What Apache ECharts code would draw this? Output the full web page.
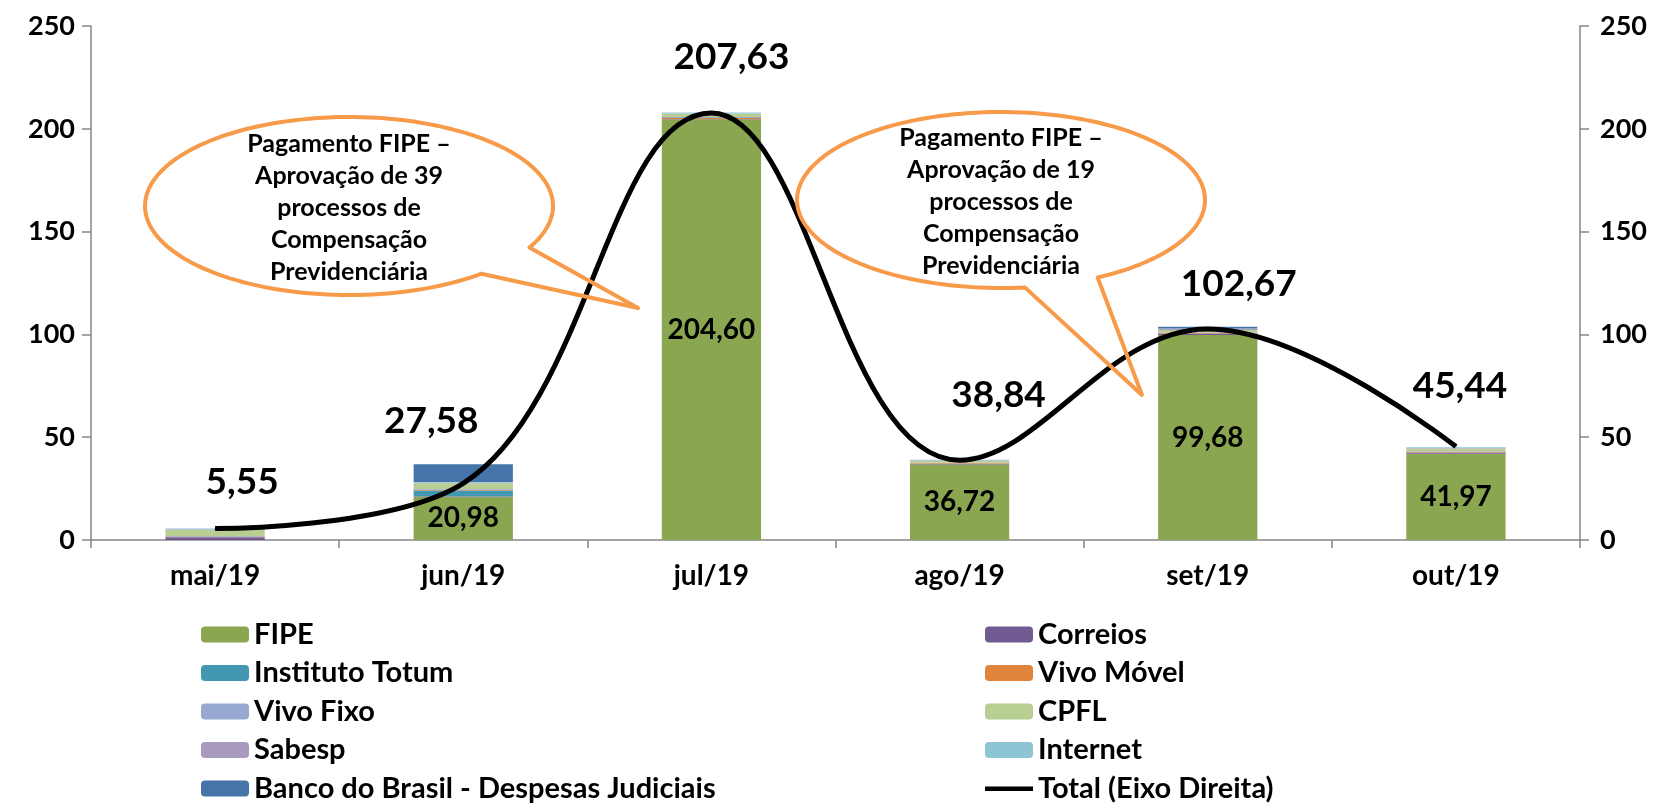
<!DOCTYPE html>
<html><head><meta charset="utf-8">
<script src="https://cdn.jsdelivr.net/npm/echarts@6/dist/echarts.min.js"></script>
<style>html,body{margin:0;padding:0;background:#fff}#c{width:1660px;height:805px}</style>
</head><body><div id="c"></div>
<script>
// ---- data ----
const categories = ['mai/19', 'jun/19', 'jul/19', 'ago/19', 'set/19', 'out/19'];
const fipe          = [0, 20.98, 204.60, 36.72, 99.68, 41.97];
const correios      = [1.3, 0.3, 0.2, 0.3, 0.8, 0.6];
const institutoTotum= [0, 2.8, 0, 0, 0, 0];
const vivoMovel     = [0.3, 0.4, 0.5, 0.3, 0.2, 0.3];
const vivoFixo      = [0.4, 0.3, 0.5, 0.2, 0.3, 0.3];
const cpfl          = [3.0, 2.8, 1.5, 1.0, 1.2, 1.3];
const sabesp        = [0.2, 0.3, 0.2, 0.3, 0.4, 0.3];
const internet      = [0.4, 0.3, 0.4, 0.2, 0.3, 0.4];
const bancoBrasil   = [0, 8.7, 0, 0, 0.8, 0];
const total         = [5.55, 27.58, 207.63, 38.84, 102.67, 45.44];
const yTicks = [0, 50, 100, 150, 200, 250];
const callout1Text = ['Pagamento FIPE –', 'Aprovação de 39', 'processos de', 'Compensação', 'Previdenciária'];
const callout2Text = ['Pagamento FIPE –', 'Aprovação de 19', 'processos de', 'Compensação', 'Previdenciária'];

// ---- styles ----
const FONT = 'Lato';
const AX = '#868686';
const totalLabelOffsets = [[27, -47], [-32, -62], [20, -56], [39, -65], [31, -45], [4, -61]];
const fmt = v => v.toFixed(2).replace('.', ',');

const barDefs = [
  ['FIPE', fipe, '#8BA650'],
  ['Correios', correios, '#715A92'],
  ['Instituto Totum', institutoTotum, '#4298B0'],
  ['Vivo Móvel', vivoMovel, '#E0843C'],
  ['Vivo Fixo', vivoFixo, '#95A9D1'],
  ['CPFL', cpfl, '#B8CE92'],
  ['Sabesp', sabesp, '#A99BBF'],
  ['Internet', internet, '#8DC4D6'],
  ['Banco do Brasil - Despesas Judiciais', bancoBrasil, '#4674A8']
];

const series = barDefs.map(([name, data, color], i) => ({
  name, type: 'bar', stack: 'tot', data, barWidth: '40%', yAxisIndex: 0,
  itemStyle: { color },
  label: i === 0 ? {
    show: true, position: 'inside', color: '#000', fontFamily: FONT, fontWeight: 'bold', fontSize: 28,
    formatter: p => p.value ? fmt(p.value) : ''
  } : { show: false }
}));
series.push({
  name: 'Total (Eixo Direita)', type: 'line', yAxisIndex: 1, smooth: 0.4,
  symbol: 'circle', symbolSize: 1, showSymbol: true,
  lineStyle: { color: '#000', width: 5 }, itemStyle: { color: '#000' },
  data: total.map((v, i) => ({ value: v, label: { offset: totalLabelOffsets[i] } })),
  label: { show: true, position: 'inside', color: '#000', fontFamily: FONT, fontWeight: 'bold', fontSize: 37,
    formatter: p => fmt(p.value) },
  z: 5
});

function calloutPoints(cx, cy, rx, ry, b1, b2, tip) {
  const ang = p => Math.atan2((p[1] - cy) / ry, (p[0] - cx) / rx) * 180 / Math.PI;
  let a1 = ang(b1), a2 = ang(b2);
  while (a2 <= a1) a2 += 360;
  const pts = [];
  const N = 160;
  for (let i = 0; i <= N; i++) {
    const a = (a1 + (a2 - a1) * i / N) * Math.PI / 180;
    pts.push([cx + rx * Math.cos(a), cy + ry * Math.sin(a)]);
  }
  pts.push(tip);
  return pts;
}
const ORANGE = '#F79A4A';
function calloutGraphic(cx, cy, rx, ry, b1, b2, tip, lines, tx, ty) {
  return [
    { type: 'polygon', z: 100, shape: { points: calloutPoints(cx, cy, rx, ry, b1, b2, tip) },
      style: { fill: 'none', stroke: ORANGE, lineWidth: 4, lineJoin: 'round' } },
    { type: 'text', z: 101, x: tx, y: ty,
      style: { text: lines.join('\n'), font: 'bold 25px ' + FONT, fill: '#000', align: 'center', verticalAlign: 'middle', lineHeight: 32 } }
  ];
}

const legendText = { color: '#000', fontFamily: FONT, fontWeight: 'bold', fontSize: 29 };
const legendBase = { orient: 'vertical', top: 620, height: 185, padding: 0, itemWidth: 48, itemHeight: 16, itemGap: 9.5,
  textStyle: legendText, itemStyle: { borderWidth: 0 } };
const chart = echarts.init(document.getElementById('c'));
chart.setOption({
  animation: false,
  backgroundColor: '#fff',
  grid: { left: 91, right: 80, top: 26, bottom: 265 },
  xAxis: {
    type: 'category', data: categories,
    axisLine: { lineStyle: { color: AX, width: 1.5 } },
    axisTick: { show: true, length: 8, lineStyle: { color: AX, width: 1.5 } },
    axisLabel: { color: '#000', fontFamily: FONT, fontWeight: 'bold', fontSize: 28, margin: 22 }
  },
  yAxis: [0, 1].map(k => ({
    type: 'value', min: 0, max: 250, interval: 50, position: k ? 'right' : 'left',
    axisLine: { show: true, lineStyle: { color: AX, width: 1.5 } },
    axisTick: { show: true, length: 9, lineStyle: { color: AX, width: 1.5 } },
    splitLine: { show: false },
    axisLabel: { color: '#000', fontFamily: FONT, fontWeight: 'bold', fontSize: 27, margin: k ? 20 : 16,
      formatter: v => yTicks.includes(v) ? String(v) : '' }
  })),
  legend: [
    Object.assign({}, legendBase, { left: 201,
      data: ['FIPE', 'Instituto Totum', 'Vivo Fixo', 'Sabesp', 'Banco do Brasil - Despesas Judiciais'] }),
    Object.assign({}, legendBase, { left: 985,
      data: ['Correios', 'Vivo Móvel', 'CPFL', 'Internet',
        { name: 'Total (Eixo Direita)', icon: 'path://M0,0 M0,16 M0,6 L48,6 L48,10.5 L0,10.5 Z' }] })
  ],
  series,
  graphic: [
    ...calloutGraphic(349, 206, 204, 89, [480, 273], [527, 247], [638, 308], callout1Text, 349, 208),
    ...calloutGraphic(1001, 200, 204, 88, [1025, 288], [1097, 277], [1142, 395], callout2Text, 1001, 202)
  ]
});
</script></body></html>
